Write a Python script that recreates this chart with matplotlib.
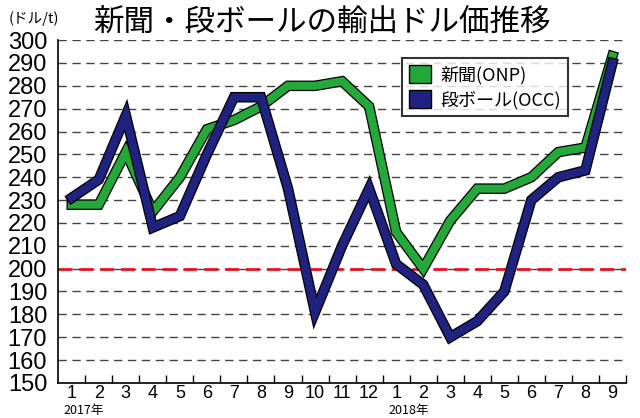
import matplotlib.pyplot as plt
import matplotlib.patheffects as pe
from matplotlib.patches import Patch

# データ (2017年1月〜2018年9月)
months = ['1', '2', '3', '4', '5', '6', '7', '8', '9', '10', '11', '12',
          '1', '2', '3', '4', '5', '6', '7', '8', '9']
onp = [228, 228, 251, 225, 240, 261, 265, 271, 280, 280, 282, 271,
       216, 200, 221, 235, 235, 240, 251, 253, 293]
occ = [231, 239, 267, 218, 223, 250, 275, 275, 235, 181, 210, 235,
       202, 193, 170, 177, 190, 230, 240, 243, 290]
years = [(0, '2017年'), (12, '2018年')]

plt.rcParams['font.family'] = ['Noto Sans CJK JP', 'DejaVu Sans']
num_font = ['Liberation Sans Narrow', 'Liberation Sans', 'DejaVu Sans']

green = '#24a83a'
navy = '#1f237f'

fig = plt.figure(figsize=(6.4, 4.18), dpi=100)
ax = fig.add_axes([0.091, 0.084, 0.887, 0.82])

x = list(range(len(months)))
for vals, col, lab in [(onp, green, '新聞(ONP)'), (occ, navy, '段ボール(OCC)')]:
    ax.plot(x, vals, color=col, lw=5.8, solid_joinstyle='miter', zorder=3,
            path_effects=[pe.Stroke(linewidth=7.6, foreground='black'), pe.Normal()])

ax.axhline(200, color='#e8141c', lw=2, ls=(0, (5, 2.5)), zorder=2)

ax.set_xlim(-0.5, len(months) - 0.5)
ax.set_ylim(150, 300)
ax.set_yticks(range(150, 301, 10))
ax.set_yticklabels([str(v) for v in range(150, 301, 10)], family=num_font, fontsize=17)
ax.tick_params(axis='y', length=0, pad=8)
for v in range(160, 301, 10):
    ax.axhline(v, color='#444444', lw=1, ls=(0, (6, 4)), zorder=1)

ax.set_xticks(x)
ax.set_xticklabels(months, family=num_font, fontsize=13)
ax.tick_params(axis='x', which='major', length=0, pad=1.5)
ax.set_xticks([i + 0.5 for i in x], minor=True)
ax.tick_params(axis='x', which='minor', direction='in', length=6, width=1, color='black')

for pos, txt in years:
    ax.text(pos - 0.3, -0.082, txt, transform=ax.get_xaxis_transform(),
            family=['Noto Sans CJK JP'], fontsize=9, ha='left', va='center')

ax.spines['top'].set_visible(False)
ax.spines['right'].set_visible(False)
ax.spines['left'].set_linewidth(1.2)
ax.spines['bottom'].set_linewidth(1.2)

handles = [Patch(facecolor=green, edgecolor='black', label='新聞(ONP)'),
           Patch(facecolor=navy, edgecolor='black', label='段ボール(OCC)')]
leg = ax.legend(handles=handles, loc='upper left', bbox_to_anchor=(0.59, 0.975),
                fontsize=13, frameon=True, fancybox=False, handlelength=1.2,
                handleheight=1.2, handletextpad=0.5, borderpad=0.4, labelspacing=0.3)
leg.get_frame().set_edgecolor('black')
leg.get_frame().set_linewidth(1.5)

fig.text(0.503, 0.948, '新聞・段ボールの輸出ドル価推移', fontsize=22, ha='center', va='center')
fig.text(0.014, 0.955, '(ドル/t)', fontsize=10.5, ha='left', va='center')

fig.savefig('out.png', dpi=100)
